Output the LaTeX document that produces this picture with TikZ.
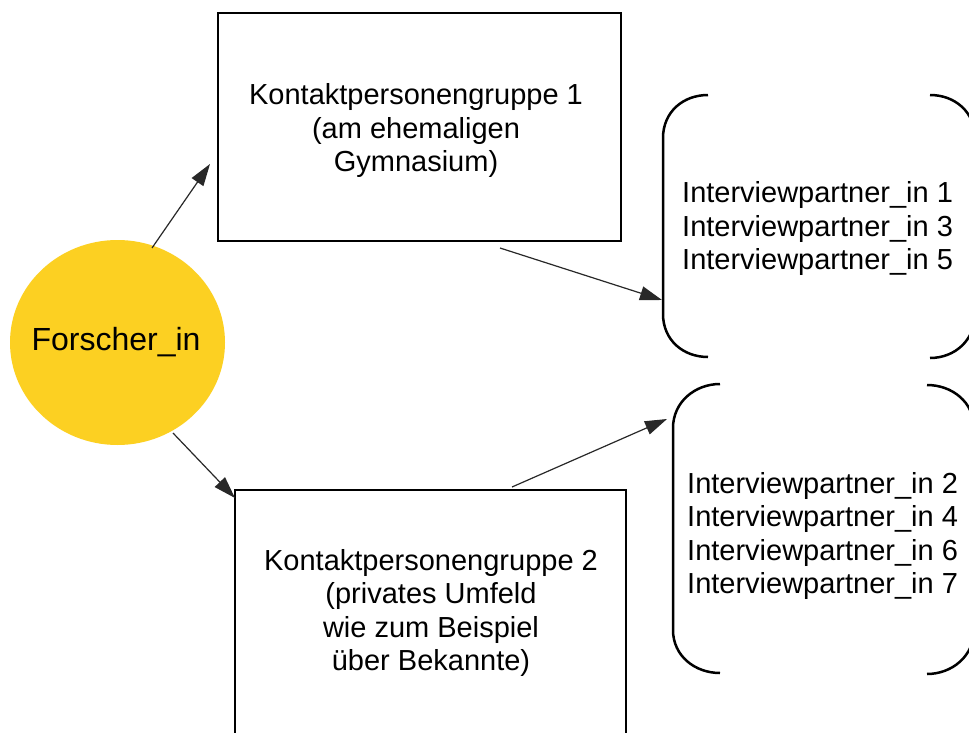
\documentclass[tikz,border=0pt]{standalone}
\usepackage{fontspec}
\setmainfont{Liberation Sans}
\usetikzlibrary{arrows.meta,shapes.geometric}
\definecolor{sun}{RGB}{252,208,34}
\definecolor{arrowgray}{RGB}{40,40,40}
\tikzset{
  boxstyle/.style={draw=black,line width=2.5pt},
  lbl/.style={font=\fontsize{29}{33.5}\selectfont,align=center,inner sep=0pt},
  lst/.style={font=\fontsize{29}{33.5}\selectfont,align=left,inner sep=0pt,anchor=west},
  conn/.style={draw=arrowgray,line width=1.2pt,-{Triangle[length=22pt,width=14pt]}},
  brk/.style={draw=black,line width=2.5pt},
}
\begin{document}
\begin{tikzpicture}[x=1pt,y=-1pt]
\useasboundingbox (0,0) rectangle (969,733);
\clip (0,0) rectangle (969,733);
\fill[white] (0,0) rectangle (969,733);
% boxes
\draw[boxstyle] (218,13) rectangle (621,241);
\draw[boxstyle] (235,490) rectangle (626,760);
% circle
\node[ellipse,fill=sun,minimum width=215pt,minimum height=205pt,inner sep=0pt] (forscher) at (117.5,342.5) {};
\node[font=\fontsize{32}{36}\selectfont,inner sep=0pt] (forschertxt) at (116,342) {Forscher\_in};
% box texts
\node[lbl] (kp1) at (416,131) {Kontaktpersonengruppe 1\\(am ehemaligen\\Gymnasium)};
\node[lbl] (kp2) at (431,613) {Kontaktpersonengruppe 2\\(privates Umfeld\\wie zum Beispiel\\ über Bekannte)};
% brackets group 1
\draw[brk] (708,95) .. controls (683,95) and (663,112) .. (663,138) -- (663,314) .. controls (663,340) and (683,357) .. (708,357);
\draw[brk] (930,95) .. controls (955,95) and (975,112) .. (975,138) -- (975,314) .. controls (975,340) and (955,358) .. (930,358);
% brackets group 2
\draw[brk] (720,384) .. controls (695,384) and (673,402) .. (673,428) -- (673,630) .. controls (673,656) and (695,673) .. (720,673);
\draw[brk] (927,385) .. controls (952,385) and (974,402) .. (974,428) -- (974,630) .. controls (974,656) and (952,674) .. (927,674);
% lists
\node[lst] (ip1) at (682,229) {Interviewpartner\_in 1\\Interviewpartner\_in 3\\Interviewpartner\_in 5};
\node[lst] (ip2) at (687,536) {Interviewpartner\_in 2\\Interviewpartner\_in 4\\Interviewpartner\_in 6\\Interviewpartner\_in 7};
% connector endpoints
\coordinate (a1s) at (152,248);
\coordinate (a1e) at (210,164);
\coordinate (a2s) at (173,433);
\coordinate (a2e) at (235,498);
\coordinate (a3s) at (500,248);
\coordinate (a3e) at (662,300);
\coordinate (a4s) at (512,487);
\coordinate (a4e) at (667,419);
\draw[conn] (a1s) -- (a1e);
\draw[conn] (a2s) -- (a2e);
\draw[conn] (a3s) -- (a3e);
\draw[conn] (a4s) -- (a4e);
\end{tikzpicture}
\end{document}
